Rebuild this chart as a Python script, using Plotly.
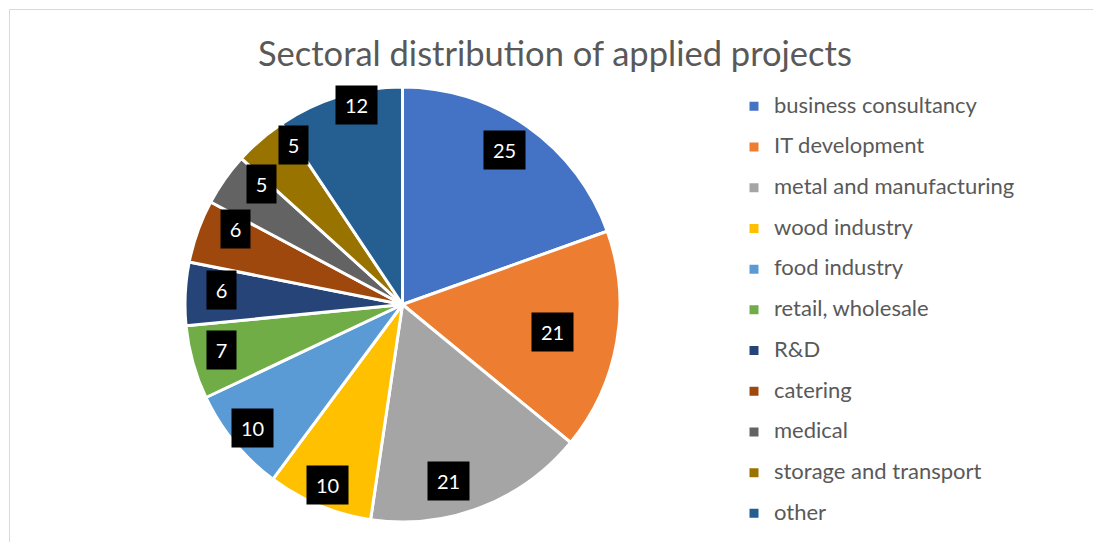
import numpy as np
import plotly.graph_objects as go

# data
sectors = ["business consultancy", "IT development", "metal and manufacturing",
           "wood industry", "food industry", "retail, wholesale", "R&D",
           "catering", "medical", "storage and transport", "other"]
projects = [25, 21, 21, 10, 10, 7, 6, 6, 5, 5, 12]

colors = ["#4472C4", "#ED7D31", "#A5A5A5", "#FFC000", "#5B9BD5", "#70AD47",
          "#264478", "#9E480E", "#636363", "#997300", "#255E91"]

W, H = 1093, 542
cx, cy, R = 402.5, 304.5, 217.5  # pie centre / radius in px
# data label placement (best fit): radius fraction and angle nudge in degrees
label_r = [0.852, 0.70, 0.837, 0.899, 0.895, 0.856, 0.833, 0.843, 0.854, 0.887, 0.94]
label_da = [-1.8, 0.6, 6.5, 0.0, 0.0, 1.4, 1.8, 4.7, 5.3, 6.3, 3.8]

fig = go.Figure(go.Pie(
    labels=[f'<span style="font-size:22px;baseline-shift:5px">{s}</span>' for s in sectors],
    values=projects,
    sort=False,
    direction="clockwise",
    rotation=0,
    marker=dict(colors=colors, line=dict(color="white", width=3)),
    textinfo="none",
    hoverinfo="label+value",
    domain=dict(x=[(cx - R) / W, (cx + R) / W], y=[1 - (cy + R) / H, 1 - (cy - R) / H]),
))

# data labels: black boxes placed around the slice mid angle
vals = np.array(projects, dtype=float)
mid = (np.cumsum(vals) - vals / 2) / vals.sum() * 2 * np.pi
annotations = []
for v, a, f, da in zip(projects, mid, label_r, label_da):
    a = a + np.radians(da)
    px = cx + np.sin(a) * R * f
    py = cy - np.cos(a) * R * f
    annotations.append(dict(
        x=px / W, y=1 - py / H, xref="paper", yref="paper",
        xanchor="center", yanchor="middle",
        text=str(v), showarrow=False,
        font=dict(family="Lato", size=20, color="white"),
        bgcolor="black", borderpad=6,
        width=5 + 12 * len(str(v)), height=26,
    ))

annotations.append(dict(
    x=555 / W, y=1 - 52 / H, xref="paper", yref="paper",
    text="Sectoral distribution of applied projects", showarrow=False,
    font=dict(family="Lato", size=34.5, color="#595959"),
    xanchor="center", yanchor="middle",
))

fig.update_layout(
    width=W, height=H,
    margin=dict(l=0, r=0, t=0, b=0),
    paper_bgcolor="white",
    annotations=annotations,
    legend=dict(
        x=734 / W, y=1 - 81 / H, xanchor="left", yanchor="top",
        font=dict(family="Lato", size=29, color="#595959"),
        itemclick=False,
    ),
    shapes=[dict(type="rect", xref="paper", yref="paper",
                 x0=9.5 / W, x1=1.02, y0=-0.02, y1=1 - 9.5 / H,
                 line=dict(color="#D9D9D9", width=1))],
)

fig.write_html("out.html", config={"displayModeBar": False},
               post_script="document.body.style.margin='0';")
